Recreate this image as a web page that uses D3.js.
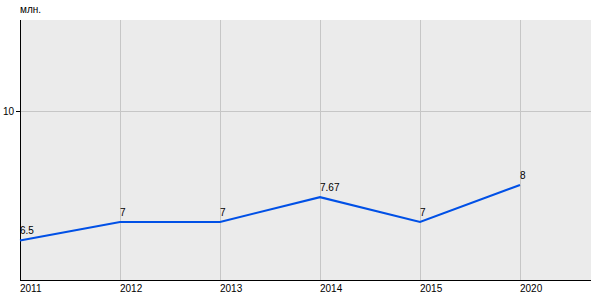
<!DOCTYPE html>
<html>
<head>
<meta charset="utf-8">
<script src="https://cdn.jsdelivr.net/npm/d3@7"></script>
<style>
  body { margin: 0; background: #fff; }
  text { font-family: "Liberation Sans", Arial, sans-serif; font-size: 10px; fill: #000; }
</style>
</head>
<body>
<div id="chart"></div>
<script>
const years = ['2011', '2012', '2013', '2014', '2015', '2020'];
const values = [6.5, 7, 7, 7.67, 7, 8];
const valueLabels = ['6.5', '7', '7', '7.67', '7', '8'];
const yTicks = [10];
const yDomain = [5.43, 12.46];
const unitLabel = 'млн.';

const width = 600;
const height = 300;
const margin = {top: 20, left: 20, right: 9, bottom: 20};
const plotW = width - margin.left - margin.right;
const plotH = height - margin.top - margin.bottom;

const svg = d3.select('#chart')
    .append('svg')
    .attr('width', width)
    .attr('height', height);

const g = svg.append('g')
    .attr('transform', 'translate(' + margin.left + ',' + margin.top + ')');

// x is a point scale, 100px per category, starting at the axis
const xScale = d3.scalePoint().domain(years).range([0, 500]);
const yScale = d3.scaleLinear().domain(yDomain).range([plotH, 0]);

g.append('rect')
    .attr('width', plotW)
    .attr('height', plotH)
    .attr('fill', '#ebebeb');

// grid
g.selectAll('.vgrid')
    .data(years.slice(1))
    .enter()
    .append('line')
    .attr('x1', (d) => xScale(d) + 0.5)
    .attr('x2', (d) => xScale(d) + 0.5)
    .attr('y1', 0)
    .attr('y2', plotH)
    .attr('stroke', '#c6c6c6')
    .attr('stroke-width', 1);

g.selectAll('.hgrid')
    .data(yTicks)
    .enter()
    .append('line')
    .attr('x1', 0)
    .attr('x2', plotW)
    .attr('y1', (d) => Math.round(yScale(d)) + 0.5)
    .attr('y2', (d) => Math.round(yScale(d)) + 0.5)
    .attr('stroke', '#c6c6c6');

// axes
g.append('line')
    .attr('x1', 0.5).attr('x2', 0.5)
    .attr('y1', 0).attr('y2', plotH)
    .attr('stroke', '#000');
g.append('line')
    .attr('x1', 0).attr('x2', plotW)
    .attr('y1', plotH + 0.5).attr('y2', plotH + 0.5)
    .attr('stroke', '#000');

// y ticks
const yTick = g.selectAll('.ytick')
    .data(yTicks)
    .enter()
    .append('g')
    .attr('transform', (d) => 'translate(0,' + (Math.round(yScale(d)) + 0.5) + ')');
yTick.append('line')
    .attr('x1', -4).attr('x2', 0)
    .attr('stroke', '#000');
yTick.append('text')
    .attr('x', -6)
    .attr('dy', '0.32em')
    .attr('text-anchor', 'end')
    .text((d) => d);

// x tick labels
g.selectAll('.xlabel')
    .data(years)
    .enter()
    .append('text')
    .attr('x', (d) => xScale(d))
    .attr('y', plotH + 12)
    .text((d) => d);

// unit label
svg.append('text')
    .attr('x', margin.left)
    .attr('y', 13)
    .text(unitLabel);

// line
const pts = years.map((y, i) => ({x: y, v: values[i], label: valueLabels[i]}));
g.append('path')
    .datum(pts)
    .attr('fill', 'none')
    .attr('stroke', '#0050e6')
    .attr('stroke-width', 2)
    .attr('d', d3.line()
        .x((d) => xScale(d.x))
        .y((d) => yScale(d.v)));

g.selectAll('.vlabel')
    .data(pts)
    .enter()
    .append('text')
    .attr('x', (d) => xScale(d.x))
    .attr('y', (d) => yScale(d.v) - 6)
    .text((d) => d.label);
</script>
</body>
</html>
